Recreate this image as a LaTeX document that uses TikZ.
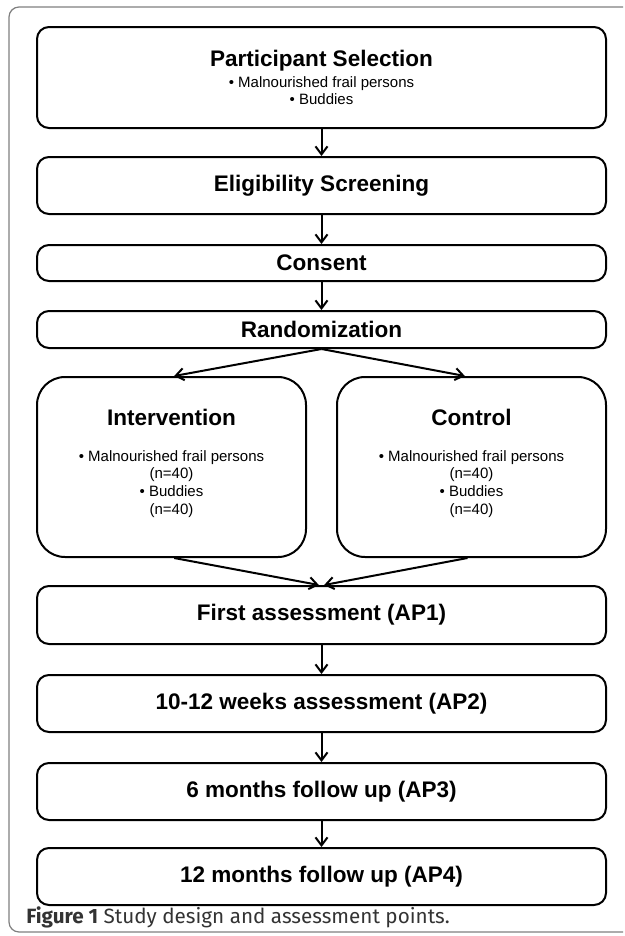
\documentclass[tikz,border=0pt]{standalone}
\usepackage{fontspec}
\setmainfont{Liberation Sans}
\newfontfamily\capfont{Fira Sans}
\usetikzlibrary{positioning, calc, arrows.meta}
\definecolor{framegray}{HTML}{7F7F7F}
\definecolor{captext}{HTML}{333333}
\newcommand{\smalltxt}{\mdseries\fontsize{11.25}{13.3}\selectfont}

\begin{document}
\begin{tikzpicture}[x=0.75pt, y=-0.75pt, node distance=21pt,
    box/.style={rectangle, draw, line width=1.5pt, rounded corners=9pt, align=center, minimum width=426.75pt, minimum height=42.75pt, inner sep=0pt, font=\bfseries\fontsize{16.9}{13.3}\selectfont},
    arm/.style={box, rounded corners=21pt, minimum width=201.75pt, minimum height=135pt, text depth=8pt},
    >={Straight Barb[length=6pt, width=9pt]}]
        \useasboundingbox (0,0) rectangle (625,936);

        % Frame
        \draw[framegray, line width=0.9pt, rounded corners=7.5pt] (623,7) -- (9,7) -- (9,932) -- (623,932);

        % Nodes
        \node[box, minimum height=75.75pt] (sel) at (321.5,77.5) {Participant Selection\\[2.5pt] \smalltxt • Malnourished frail persons\\ \smalltxt • Buddies};
        \node[box] (elig) [below=20.25pt of sel] {Eligibility Screening};
        \node[box, minimum height=27pt] (cons) [below=21.75pt of elig] {Consent};
        \node[box, minimum height=27.75pt] (rand) [below=of cons] {Randomization};
        \node[arm] (interv) [below=20.25pt of rand.south west, anchor=north west] {Intervention\\[13.5pt] \smalltxt • Malnourished frail persons\\ \smalltxt (n=40)\\ \smalltxt • Buddies\\ \smalltxt (n=40)};
        \node[arm] (ctrl) [below=20.25pt of rand.south east, anchor=north east] {Control\\[13.5pt] \smalltxt • Malnourished frail persons\\ \smalltxt (n=40)\\ \smalltxt • Buddies\\ \smalltxt (n=40)};
        \coordinate (armbot) at (rand.south |- interv.south);
        \node[box, minimum height=43.5pt] (first) [below=20.25pt of armbot] {First assessment (AP1)};
        \node[box] (wk) [below=21.75pt of first] {10-12 weeks assessment (AP2)};
        \node[box] (mo6) [below=21.75pt of wk] {6 months follow up (AP3)};
        \node[box] (mo12) [below=19.5pt of mo6] {12 months follow up (AP4)};

        \node[anchor=west, inner sep=0pt, text=captext, font=\capfont\fontsize{15.5}{17}\selectfont] (cap) at (26,917) {\textbf{Figure 1} Study design and assessment points.};

        % Main vertical arrows
        \foreach \i/\j in {sel/elig, elig/cons, cons/rand, first/wk, wk/mo6, mo6/mo12}
        \draw[->, line width=1.5pt] (\i) -- (\j);

        % Arms
        \draw[->, line width=1.5pt] (rand.south) -- ([xshift=2pt]interv.north);
        \draw[->, line width=1.5pt] (rand.south) -- ([xshift=-5pt]ctrl.north);
        \draw[->, line width=1.5pt] ([xshift=2pt]interv.south) -- ([xshift=-2pt]first.north);
        \draw[->, line width=1.5pt] ([xshift=-3pt]ctrl.south) -- ([xshift=2pt]first.north);

        \end{tikzpicture}
\end{document}
